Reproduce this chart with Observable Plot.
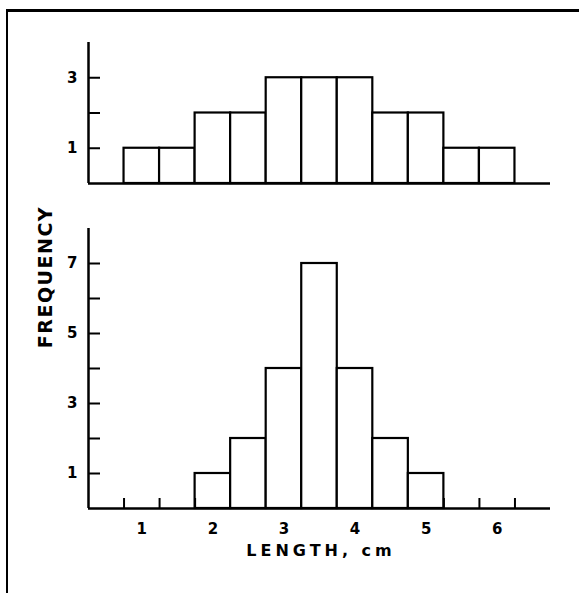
<!DOCTYPE html>
<html>
<head>
<meta charset="utf-8">
<script src="https://cdn.jsdelivr.net/npm/d3@7"></script>
<script src="https://cdn.jsdelivr.net/npm/@observablehq/plot@0.6"></script>
<style>
  html, body { margin: 0; padding: 0; background: #fff; }
  #page { position: relative; width: 579px; height: 593px; overflow: hidden; background: #fff; }
  #border { position: absolute; left: 6px; top: 9px; right: -10px; bottom: -10px;
            border-left: 2.5px solid #000; border-top: 3px solid #000; }
  .panel { position: absolute; left: 0; }
  .panel svg { display: block; }
  .axis-title { position: absolute; font-family: "DejaVu Sans", sans-serif; font-weight: bold;
                color: #000; white-space: nowrap; }
  #ytitle { left: 45px; top: 277px; font-size: 19px; letter-spacing: 1.5px;
            transform: translate(-50%, -50%) rotate(-90deg); }
  #xtitle { left: 321px; top: 550px; font-size: 16px; letter-spacing: 4px;
            transform: translate(-50%, -50%); }
</style>
</head>
<body>
<div id="page">
  <div id="border"></div>
  <div id="top" class="panel" style="top:0"></div>
  <div id="bottom" class="panel" style="top:200px"></div>
  <div id="ytitle" class="axis-title">FREQUENCY</div>
  <div id="xtitle" class="axis-title">LENGTH, cm</div>
</div>
<script>
// Bin centres (cm) and the counts in each bin for the two samples
const lengths = [1, 1.5, 2, 2.5, 3, 3.5, 4, 4.5, 5, 5.5, 6];
const topCounts = [1, 1, 2, 2, 3, 3, 3, 2, 2, 1, 1];
const bottomCounts = [0, 0, 1, 2, 4, 7, 4, 2, 1, 0, 0];
const binWidth = 0.5;

// Axis ticks and which of them carry a label
const xTicks = [1, 2, 3, 4, 5, 6];
const xDomain = [0.25, 6.75];
const topYTicks = [1, 2, 3];
const topYLabels = [1, 3];
const bottomYTicks = [1, 2, 3, 4, 5, 6, 7];
const bottomYLabels = [1, 3, 5, 7];

const W = 579, ML = 88, MR = 29;

function panel({counts, yMax, yTicks, yLabels, height, marginTop, marginBottom, showX}) {
  const rows = lengths.map((c, i) => ({x1: c - binWidth / 2, x2: c + binWidth / 2, count: counts[i]}));
  // short marks at the edges of empty bins
  const emptyEdges = Array.from(new Set(rows.filter(d => d.count === 0).flatMap(d => [d.x1, d.x2])));
  const innerH = height - marginTop - marginBottom;
  const innerW = W - ML - MR;
  return Plot.plot({
    width: W, height, marginTop, marginBottom, marginLeft: ML, marginRight: MR,
    style: {fontFamily: "DejaVu Sans, sans-serif", fontSize: "15px", fontWeight: "bold", color: "#000", background: "transparent", overflow: "visible"},
    x: {domain: xDomain, ticks: xTicks, tickSize: 0, tickPadding: 15, label: null,
        axis: showX ? "bottom" : null, tickFormat: d => String(d)},
    y: {domain: [0, yMax], ticks: yTicks, tickSize: 0, tickPadding: 11, label: null,
        tickFormat: d => yLabels.includes(d) ? String(d) : ""},
    marks: [
      Plot.rect(rows.filter(d => d.count > 0), {x1: "x1", x2: "x2", y1: 0, y2: "count", fill: "white", stroke: "black", strokeWidth: 2.2}),
      Plot.tickX(emptyEdges, {x: d => d, insetTop: innerH - 10, stroke: "black", strokeWidth: 2}),
      Plot.tickY(yTicks, {y: d => d, insetRight: innerW - 12, stroke: "black", strokeWidth: 2}),
      Plot.ruleX([xDomain[0]], {stroke: "black", strokeWidth: 2.5}),
      Plot.ruleY([0], {stroke: "black", strokeWidth: 2.5})
    ]
  });
}

document.getElementById("top").append(panel({
  counts: topCounts, yMax: 4, yTicks: topYTicks, yLabels: topYLabels,
  height: 200, marginTop: 42, marginBottom: 17, showX: false
}));
document.getElementById("bottom").append(panel({
  counts: bottomCounts, yMax: 8, yTicks: bottomYTicks, yLabels: bottomYLabels,
  height: 393, marginTop: 28, marginBottom: 85, showX: true
}));
</script>
</body>
</html>
